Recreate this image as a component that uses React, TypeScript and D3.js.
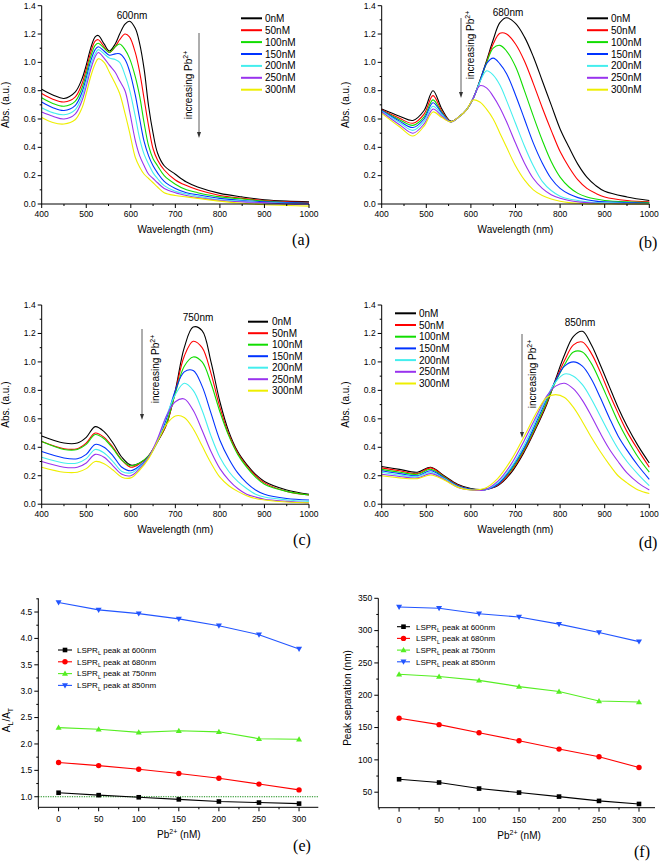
import React from "react";
import * as d3 from "d3";

const FONT = "'Liberation Sans', Arial, Helvetica, sans-serif";
const SERIF = "'Liberation Serif', 'Times New Roman', serif";

const CONC_LABELS = ["0nM", "50nM", "100nM", "150nM", "200nM", "250nM", "300nM"];
const SPEC_COLORS = ["#000000", "#ff0000", "#11dd00", "#0033ff", "#44eeee", "#9933ee", "#eeee00"];

// ---------- panel (a) ----------
const WL_A = [400, 425, 450, 475, 490, 500, 510, 520, 527, 540, 552, 565, 575, 587, 597, 610, 620, 630, 640, 650, 660, 675, 700, 725, 750, 800, 850, 900, 950, 1000];
const A_0 = [0.81, 0.77, 0.745, 0.79, 0.88, 0.98, 1.1, 1.18, 1.19, 1.13, 1.08, 1.13, 1.2, 1.27, 1.29, 1.24, 1.13, 0.95, 0.69, 0.5, 0.36, 0.27, 0.21, 0.155, 0.12, 0.075, 0.05, 0.03, 0.02, 0.015];
const A_50 = [0.78, 0.74, 0.72, 0.755, 0.845, 0.95, 1.07, 1.15, 1.16, 1.11, 1.07, 1.11, 1.16, 1.2, 1.18, 1.07, 0.93, 0.74, 0.55, 0.39, 0.31, 0.24, 0.17, 0.13, 0.1, 0.06, 0.04, 0.025, 0.015, 0.01];
const A_100 = [0.75, 0.71, 0.69, 0.725, 0.815, 0.92, 1.04, 1.12, 1.135, 1.1, 1.07, 1.11, 1.13, 1.09, 1.03, 0.9, 0.76, 0.57, 0.41, 0.32, 0.27, 0.2, 0.14, 0.1, 0.08, 0.05, 0.035, 0.02, 0.01, 0.005];
const A_150 = [0.72, 0.68, 0.66, 0.695, 0.785, 0.89, 1.01, 1.09, 1.11, 1.08, 1.05, 1.06, 1.06, 1.02, 0.94, 0.77, 0.6, 0.44, 0.34, 0.27, 0.22, 0.16, 0.11, 0.08, 0.065, 0.04, 0.025, 0.015, 0.01, 0.005];
const A_200 = [0.68, 0.645, 0.63, 0.665, 0.755, 0.86, 0.98, 1.06, 1.09, 1.06, 1.03, 1.02, 1.0, 0.91, 0.81, 0.62, 0.46, 0.35, 0.28, 0.22, 0.18, 0.13, 0.09, 0.07, 0.055, 0.03, 0.02, 0.01, 0.005, 0];
const A_250 = [0.65, 0.62, 0.6, 0.635, 0.725, 0.83, 0.95, 1.04, 1.07, 1.03, 0.98, 0.93, 0.87, 0.8, 0.66, 0.45, 0.34, 0.27, 0.21, 0.18, 0.15, 0.11, 0.08, 0.06, 0.045, 0.025, 0.015, 0.01, 0, 0];
const A_300 = [0.61, 0.575, 0.565, 0.595, 0.675, 0.78, 0.9, 0.99, 1.025, 1.0, 0.93, 0.85, 0.78, 0.64, 0.51, 0.33, 0.26, 0.21, 0.18, 0.15, 0.12, 0.08, 0.06, 0.05, 0.04, 0.02, 0.005, -0.005, -0.01, -0.015];

// ---------- panel (b) ----------
const WL_B = [400, 440, 470, 495, 515, 535, 555, 575, 590, 605, 620, 635, 650, 665, 680, 700, 720, 740, 760, 780, 800, 820, 840, 860, 880, 900, 950, 1000];
const B_0 = [0.67, 0.62, 0.59, 0.66, 0.8, 0.67, 0.585, 0.62, 0.665, 0.745, 0.87, 1.01, 1.16, 1.28, 1.315, 1.275, 1.18, 1.04, 0.87, 0.7, 0.53, 0.4, 0.28, 0.19, 0.13, 0.09, 0.05, 0.025];
const B_50 = [0.665, 0.605, 0.57, 0.635, 0.765, 0.655, 0.58, 0.62, 0.665, 0.745, 0.865, 1.0, 1.13, 1.205, 1.2, 1.13, 1.01, 0.85, 0.68, 0.52, 0.37, 0.26, 0.17, 0.11, 0.075, 0.05, 0.025, 0.015];
const B_100 = [0.66, 0.595, 0.555, 0.615, 0.735, 0.645, 0.58, 0.62, 0.665, 0.745, 0.865, 0.995, 1.1, 1.12, 1.08, 0.97, 0.8, 0.62, 0.45, 0.3, 0.19, 0.12, 0.075, 0.05, 0.035, 0.025, 0.015, 0.01];
const B_150 = [0.66, 0.585, 0.54, 0.6, 0.715, 0.64, 0.58, 0.62, 0.665, 0.745, 0.865, 0.99, 1.03, 0.99, 0.92, 0.77, 0.6, 0.43, 0.29, 0.18, 0.11, 0.07, 0.045, 0.03, 0.02, 0.015, 0.01, 0.005];
const B_200 = [0.655, 0.575, 0.52, 0.585, 0.69, 0.63, 0.58, 0.62, 0.665, 0.745, 0.86, 0.94, 0.91, 0.84, 0.73, 0.57, 0.41, 0.27, 0.16, 0.095, 0.055, 0.035, 0.025, 0.015, 0.01, 0.01, 0.005, 0];
const B_250 = [0.65, 0.56, 0.5, 0.565, 0.67, 0.62, 0.58, 0.62, 0.665, 0.745, 0.835, 0.82, 0.76, 0.68, 0.58, 0.43, 0.29, 0.18, 0.11, 0.065, 0.04, 0.025, 0.015, 0.01, 0.005, 0.005, 0, 0];
const B_300 = [0.64, 0.545, 0.48, 0.55, 0.65, 0.61, 0.58, 0.62, 0.665, 0.734, 0.72, 0.67, 0.6, 0.5, 0.4, 0.27, 0.17, 0.1, 0.06, 0.035, 0.02, 0.01, 0.005, 0, 0, 0, 0, 0];

// ---------- panel (c) ----------
const WL_C = [400, 450, 480, 500, 520, 540, 560, 580, 600, 620, 640, 660, 680, 700, 720, 740, 760, 780, 800, 820, 840, 860, 880, 900, 950, 1000];
const C_0 = [0.48, 0.43, 0.43, 0.47, 0.545, 0.51, 0.43, 0.33, 0.275, 0.29, 0.34, 0.44, 0.56, 0.8, 1.1, 1.245, 1.22, 1.0, 0.72, 0.51, 0.37, 0.28, 0.21, 0.16, 0.1, 0.07];
const C_50 = [0.44, 0.39, 0.39, 0.43, 0.5, 0.47, 0.4, 0.31, 0.26, 0.285, 0.34, 0.44, 0.56, 0.79, 1.04, 1.145, 1.1, 0.92, 0.68, 0.49, 0.36, 0.27, 0.2, 0.15, 0.09, 0.065];
const C_100 = [0.44, 0.385, 0.385, 0.42, 0.49, 0.46, 0.39, 0.31, 0.27, 0.29, 0.34, 0.44, 0.57, 0.78, 0.97, 1.035, 1.0, 0.85, 0.65, 0.48, 0.35, 0.26, 0.19, 0.14, 0.09, 0.065];
const C_150 = [0.37, 0.325, 0.32, 0.35, 0.42, 0.4, 0.34, 0.26, 0.235, 0.27, 0.33, 0.44, 0.6, 0.8, 0.93, 0.94, 0.83, 0.64, 0.45, 0.32, 0.22, 0.15, 0.1, 0.07, 0.04, 0.03];
const C_200 = [0.33, 0.29, 0.29, 0.32, 0.385, 0.36, 0.3, 0.23, 0.22, 0.26, 0.33, 0.45, 0.62, 0.77, 0.85, 0.8, 0.66, 0.48, 0.33, 0.23, 0.16, 0.11, 0.07, 0.05, 0.03, 0.02];
const C_250 = [0.3, 0.26, 0.26, 0.29, 0.35, 0.33, 0.27, 0.21, 0.2, 0.25, 0.33, 0.46, 0.62, 0.72, 0.74, 0.66, 0.52, 0.37, 0.25, 0.17, 0.11, 0.07, 0.05, 0.035, 0.02, 0.01];
const C_300 = [0.26, 0.225, 0.225, 0.25, 0.3, 0.285, 0.24, 0.19, 0.185, 0.24, 0.32, 0.44, 0.56, 0.62, 0.61, 0.53, 0.41, 0.29, 0.19, 0.13, 0.09, 0.06, 0.04, 0.03, 0.015, 0.01];

// ---------- panel (d) ----------
const WL_D = [400, 440, 480, 510, 540, 570, 600, 630, 660, 690, 720, 750, 770, 790, 810, 830, 850, 870, 890, 910, 930, 950, 975, 1000];
const D_0 = [0.265, 0.245, 0.225, 0.26, 0.2, 0.14, 0.11, 0.105, 0.13, 0.22, 0.37, 0.56, 0.7, 0.88, 1.05, 1.18, 1.215, 1.12, 0.98, 0.83, 0.68, 0.55, 0.41, 0.29];
const D_50 = [0.255, 0.235, 0.215, 0.255, 0.195, 0.135, 0.105, 0.1, 0.135, 0.23, 0.38, 0.57, 0.71, 0.87, 1.01, 1.12, 1.14, 1.06, 0.93, 0.78, 0.64, 0.51, 0.38, 0.26];
const D_100 = [0.245, 0.225, 0.21, 0.245, 0.19, 0.13, 0.105, 0.1, 0.14, 0.24, 0.39, 0.58, 0.72, 0.86, 0.98, 1.07, 1.07, 0.99, 0.86, 0.72, 0.58, 0.46, 0.33, 0.225];
const D_150 = [0.235, 0.215, 0.2, 0.235, 0.185, 0.13, 0.105, 0.1, 0.14, 0.25, 0.4, 0.6, 0.74, 0.87, 0.97, 1.0, 0.97, 0.88, 0.75, 0.61, 0.48, 0.38, 0.27, 0.175];
const D_200 = [0.225, 0.205, 0.195, 0.225, 0.18, 0.125, 0.1, 0.1, 0.15, 0.26, 0.42, 0.62, 0.75, 0.86, 0.915, 0.9, 0.84, 0.74, 0.62, 0.5, 0.39, 0.3, 0.21, 0.13];
const D_250 = [0.21, 0.195, 0.185, 0.215, 0.175, 0.12, 0.1, 0.1, 0.16, 0.28, 0.45, 0.64, 0.76, 0.83, 0.85, 0.81, 0.73, 0.62, 0.5, 0.39, 0.3, 0.22, 0.15, 0.1];
const D_300 = [0.2, 0.185, 0.18, 0.205, 0.17, 0.12, 0.1, 0.11, 0.18, 0.31, 0.48, 0.66, 0.75, 0.77, 0.75, 0.68, 0.58, 0.47, 0.37, 0.28, 0.2, 0.15, 0.1, 0.075];

const SPEC_Y_TICKS = [0, 0.2, 0.4, 0.6, 0.8, 1.0, 1.2, 1.4];
const SPEC_Y_MINOR = [0.1, 0.3, 0.5, 0.7, 0.9, 1.1, 1.3];
const SPEC_X_TICKS = [400, 500, 600, 700, 800, 900, 1000];
const SPEC_X_MINOR = [450, 550, 650, 750, 850, 950];

// ---------- panels (e), (f) ----------
const PB = [0, 50, 100, 150, 200, 250, 300];
const RATIO_600 = [1.076, 1.03, 0.99, 0.95, 0.91, 0.89, 0.87];
const RATIO_680 = [1.65, 1.59, 1.52, 1.44, 1.35, 1.24, 1.13];
const RATIO_750 = [2.31, 2.28, 2.22, 2.25, 2.23, 2.1, 2.09];
const RATIO_850 = [4.68, 4.54, 4.47, 4.37, 4.24, 4.07, 3.8];
const SEP_600 = [70, 65, 55.6, 49.4, 43.2, 36.5, 31.8];
const SEP_680 = [164.3, 154.5, 142, 129.6, 116.7, 104.8, 88.2];
const SEP_750 = [232.6, 229, 223, 213.4, 205.7, 191, 189.6];
const SEP_850 = [336.5, 334.5, 326, 321, 310, 297, 283];
const PEAK_LABELS = ["600nm", "680nm", "750nm", "850nm"];
const XY_COLORS = ["#000000", "#ff0000", "#55ee22", "#2255ff"];
const MARKERS = ["square", "circle", "up", "down"];
const E_Y_TICKS = [1.0, 1.5, 2.0, 2.5, 3.0, 3.5, 4.0, 4.5];
const E_Y_MINOR = [1.25, 1.75, 2.25, 2.75, 3.25, 3.75, 4.25, 4.75];
const F_Y_TICKS = [50, 100, 150, 200, 250, 300, 350];
const F_Y_MINOR = [75, 125, 175, 225, 275, 325];
const XY_X_TICKS = [0, 50, 100, 150, 200, 250, 300];
const XY_X_MINOR = [-25, 25, 75, 125, 175, 225, 275];

type Box = { l: number; r: number; t: number; b: number };

function SpectrumPanel(p: {
  box: Box;
  wl: number[];
  series: number[][];
  legend: { x1: number; x2: number; tx: number; y0: number; dy: number };
  peak: { text: string; x: number; y: number };
  arrow: { x: number; y1: number; y2: number };
  incr: { x: number; y: number };
  titleY: number;
  ytitleX: number;
  label: { text: string; x: number; y: number };
}) {
  const { box } = p;
  const x = d3.scaleLinear().domain([400, 1000]).range([box.l, box.r]);
  const y = d3.scaleLinear().domain([0, 1.4]).range([box.b, box.t]);
  const line = d3
    .line<number>()
    .x((_, i) => x(p.wl[i]))
    .y((d) => y(d))
    .curve(d3.curveCatmullRom.alpha(0.5));
  return (
    <g fontFamily={FONT}>
      {p.series.map((s, i) => (
        <path key={i} d={line(s) || ""} fill="none" stroke={SPEC_COLORS[i]} strokeWidth={1.1} />
      ))}
      <line x1={box.l} x2={box.l} y1={box.t} y2={box.b} stroke="#000" strokeWidth={1} />
      <line x1={box.l} x2={box.r} y1={box.b} y2={box.b} stroke="#000" strokeWidth={1} />
      {SPEC_Y_TICKS.map((t) => (
        <g key={"y" + t}>
          <line x1={box.l - 4} x2={box.l} y1={y(t)} y2={y(t)} stroke="#000" />
          <text x={box.l - 6} y={y(t)} dy="0.33em" textAnchor="end" fontSize={8.5}>
            {t.toFixed(1)}
          </text>
        </g>
      ))}
      {SPEC_Y_MINOR.map((t) => (
        <line key={"ym" + t} x1={box.l - 2} x2={box.l} y1={y(t)} y2={y(t)} stroke="#000" />
      ))}
      {SPEC_X_TICKS.map((t) => (
        <g key={"x" + t}>
          <line x1={x(t)} x2={x(t)} y1={box.b} y2={box.b + 4} stroke="#000" />
          <text x={x(t)} y={box.b + 13} textAnchor="middle" fontSize={8.5}>
            {t}
          </text>
        </g>
      ))}
      {SPEC_X_MINOR.map((t) => (
        <line key={"xm" + t} x1={x(t)} x2={x(t)} y1={box.b} y2={box.b + 2} stroke="#000" />
      ))}
      <text x={(box.l + box.r) / 2} y={p.titleY} textAnchor="middle" fontSize={10}>
        Wavelength (nm)
      </text>
      <text
        transform={`translate(${p.ytitleX},${(box.t + box.b) / 2}) rotate(-90)`}
        textAnchor="middle"
        fontSize={10}
      >
        Abs. (a.u.)
      </text>
      {CONC_LABELS.map((c, i) => (
        <g key={c}>
          <line
            x1={p.legend.x1}
            x2={p.legend.x2}
            y1={p.legend.y0 + i * p.legend.dy}
            y2={p.legend.y0 + i * p.legend.dy}
            stroke={SPEC_COLORS[i]}
            strokeWidth={2}
          />
          <text x={p.legend.tx} y={p.legend.y0 + i * p.legend.dy} dy="0.35em" fontSize={10}>
            {c}
          </text>
        </g>
      ))}
      <text x={p.peak.x} y={p.peak.y} dy="0.35em" textAnchor="middle" fontSize={10}>
        {p.peak.text}
      </text>
      <line x1={p.arrow.x} x2={p.arrow.x} y1={p.arrow.y1} y2={p.arrow.y2 - 4} stroke="#333" strokeWidth={0.8} />
      <path
        d={`M${p.arrow.x - 2},${p.arrow.y2 - 6} L${p.arrow.x + 2},${p.arrow.y2 - 6} L${p.arrow.x},${p.arrow.y2} Z`}
        fill="#333"
      />
      <text
        transform={`translate(${p.incr.x},${p.incr.y}) rotate(-90)`}
        textAnchor="middle"
        dy="0.35em"
        fontSize={10}
      >
        increasing Pb
        <tspan fontSize={7} dy={-4}>
          2+
        </tspan>
      </text>
      <text x={p.label.x} y={p.label.y} textAnchor="middle" fontSize={16} fontFamily={SERIF}>
        {p.label.text}
      </text>
    </g>
  );
}

function Marker({ kind, cx, cy, color }: { kind: string; cx: number; cy: number; color: string }) {
  if (kind === "square") return <rect x={cx - 2.3} y={cy - 2.3} width={4.6} height={4.6} fill={color} />;
  if (kind === "circle") return <circle cx={cx} cy={cy} r={2.7} fill={color} />;
  if (kind === "up")
    return <path d={`M${cx},${cy - 3} L${cx + 3},${cy + 2.2} L${cx - 3},${cy + 2.2} Z`} fill={color} />;
  return <path d={`M${cx},${cy + 3} L${cx + 3},${cy - 2.2} L${cx - 3},${cy - 2.2} Z`} fill={color} />;
}

function XYPanel(p: {
  box: Box;
  xDomain: [number, number];
  yDomain: [number, number];
  yTicks: number[];
  yMinor: number[];
  yFmt: (v: number) => string;
  series: number[][];
  legend: { x1: number; x2: number; tx: number; y0: number; dy: number };
  ytitle: React.ReactNode;
  ytitleX: number;
  ytitleY: number;
  refLine?: number;
  label: { text: string; x: number; y: number };
}) {
  const { box } = p;
  const x = d3.scaleLinear().domain(p.xDomain).range([box.l, box.r]);
  const y = d3.scaleLinear().domain(p.yDomain).range([box.b, box.t]);
  const line = d3
    .line<number>()
    .x((_, i) => x(PB[i]))
    .y((d) => y(d));
  return (
    <g fontFamily={FONT}>
      {p.refLine !== undefined && (
        <line
          x1={box.l}
          x2={box.r}
          y1={y(p.refLine)}
          y2={y(p.refLine)}
          stroke="#118811"
          strokeWidth={1}
          strokeDasharray="1.2,1.2"
        />
      )}
      {p.series.map((s, i) => (
        <g key={i}>
          <path d={line(s) || ""} fill="none" stroke={XY_COLORS[i]} strokeWidth={1.1} />
          {s.map((v, j) => (
            <Marker key={j} kind={MARKERS[i]} cx={x(PB[j])} cy={y(v)} color={XY_COLORS[i]} />
          ))}
        </g>
      ))}
      <line x1={box.l} x2={box.l} y1={box.t} y2={box.b} stroke="#000" />
      <line x1={box.l} x2={box.r} y1={box.b} y2={box.b} stroke="#000" />
      {p.yTicks.map((t) => (
        <g key={"y" + t}>
          <line x1={box.l - 4} x2={box.l} y1={y(t)} y2={y(t)} stroke="#000" />
          <text x={box.l - 6} y={y(t)} dy="0.33em" textAnchor="end" fontSize={8.5}>
            {p.yFmt(t)}
          </text>
        </g>
      ))}
      {p.yMinor
        .filter((t) => t >= p.yDomain[0] && t <= p.yDomain[1])
        .map((t) => (
          <line key={"ym" + t} x1={box.l - 2} x2={box.l} y1={y(t)} y2={y(t)} stroke="#000" />
        ))}
      {XY_X_TICKS.map((t) => (
        <g key={"x" + t}>
          <line x1={x(t)} x2={x(t)} y1={box.b} y2={box.b + 4} stroke="#000" />
          <text x={x(t)} y={box.b + 15} textAnchor="middle" fontSize={8.5}>
            {t}
          </text>
        </g>
      ))}
      {XY_X_MINOR.filter((t) => t >= p.xDomain[0]).map((t) => (
        <line key={"xm" + t} x1={x(t)} x2={x(t)} y1={box.b} y2={box.b + 2} stroke="#000" />
      ))}
      <text x={(x(0) + x(300)) / 2} y={box.b + 31} textAnchor="middle" fontSize={10}>
        Pb
        <tspan fontSize={7} dy={-4}>
          2+
        </tspan>
        <tspan dy={4}> (nM)</tspan>
      </text>
      <text transform={`translate(${p.ytitleX},${p.ytitleY}) rotate(-90)`} textAnchor="middle" fontSize={10}>
        {p.ytitle}
      </text>
      {PEAK_LABELS.map((pk, i) => {
        const yy = p.legend.y0 + i * p.legend.dy;
        return (
          <g key={pk}>
            <line x1={p.legend.x1} x2={p.legend.x2} y1={yy} y2={yy} stroke={XY_COLORS[i]} strokeWidth={1.1} />
            <Marker kind={MARKERS[i]} cx={(p.legend.x1 + p.legend.x2) / 2} cy={yy} color={XY_COLORS[i]} />
            <text x={p.legend.tx} y={yy} dy="0.35em" fontSize={8}>
              LSPR
              <tspan fontSize={5.5} dy={2.5}>
                L
              </tspan>
              <tspan dy={-2.5}> peak at {pk}</tspan>
            </text>
          </g>
        );
      })}
      <text x={p.label.x} y={p.label.y} textAnchor="middle" fontSize={16} fontFamily={SERIF}>
        {p.label.text}
      </text>
    </g>
  );
}

export default function App() {
  return (
    <svg
      width={661}
      height={861}
      viewBox="0 0 661 861"
      style={{ position: "absolute", left: 0, top: 0, background: "#fff" }}
    >
      <rect width={661} height={861} fill="#fff" />
      <SpectrumPanel
        box={{ l: 41.7, r: 309, t: 5.7, b: 204 }}
        wl={WL_A}
        series={[A_0, A_50, A_100, A_150, A_200, A_250, A_300]}
        legend={{ x1: 241, x2: 262, tx: 265, y0: 18.3, dy: 11.9 }}
        peak={{ text: "600nm", x: 132, y: 15 }}
        arrow={{ x: 199, y1: 33, y2: 138 }}
        incr={{ x: 188, y: 85 }}
        titleY={232.5}
        ytitleX={9}
        label={{ text: "(a)", x: 301, y: 245 }}
      />
      <SpectrumPanel
        box={{ l: 381.7, r: 649.3, t: 5.7, b: 204 }}
        wl={WL_B}
        series={[B_0, B_50, B_100, B_150, B_200, B_250, B_300]}
        legend={{ x1: 587, x2: 608, tx: 611, y0: 18.3, dy: 11.9 }}
        peak={{ text: "680nm", x: 508, y: 12 }}
        arrow={{ x: 461, y1: 18, y2: 98 }}
        incr={{ x: 470, y: 45 }}
        titleY={232.5}
        ytitleX={349}
        label={{ text: "(b)", x: 648, y: 248 }}
      />
      <SpectrumPanel
        box={{ l: 41.7, r: 309, t: 305, b: 504.2 }}
        wl={WL_C}
        series={[C_0, C_50, C_100, C_150, C_200, C_250, C_300]}
        legend={{ x1: 248, x2: 268, tx: 272, y0: 321.7, dy: 11.5 }}
        peak={{ text: "750nm", x: 198, y: 317 }}
        arrow={{ x: 142, y1: 329, y2: 420 }}
        incr={{ x: 155, y: 369 }}
        titleY={532.5}
        ytitleX={9}
        label={{ text: "(c)", x: 302, y: 545 }}
      />
      <SpectrumPanel
        box={{ l: 381.7, r: 649.3, t: 305, b: 504.2 }}
        wl={WL_D}
        series={[D_0, D_50, D_100, D_150, D_200, D_250, D_300]}
        legend={{ x1: 395, x2: 416, tx: 419, y0: 313.3, dy: 11.7 }}
        peak={{ text: "850nm", x: 580, y: 322 }}
        arrow={{ x: 522, y1: 334, y2: 438 }}
        incr={{ x: 532, y: 374 }}
        titleY={532.5}
        ytitleX={349}
        label={{ text: "(d)", x: 648, y: 548 }}
      />
      <XYPanel
        box={{ l: 38.3, r: 318.3, t: 598.3, b: 807.3 }}
        xDomain={[-25.3, 324]}
        yDomain={[0.8, 4.76]}
        yTicks={E_Y_TICKS}
        yMinor={E_Y_MINOR}
        yFmt={(v) => v.toFixed(1)}
        series={[RATIO_600, RATIO_680, RATIO_750, RATIO_850]}
        legend={{ x1: 58, x2: 72, tx: 77, y0: 650, dy: 11.8 }}
        ytitle={
          <>
            A<tspan fontSize={7} dy={3}>L</tspan>
            <tspan dy={-3}>/A</tspan>
            <tspan fontSize={7} dy={3}>T</tspan>
          </>
        }
        ytitleX={10}
        ytitleY={720}
        refLine={1.0}
        label={{ text: "(e)", x: 302, y: 851 }}
      />
      <XYPanel
        box={{ l: 378.3, r: 655, t: 598.3, b: 807.7 }}
        xDomain={[-26, 320]}
        yDomain={[26, 350]}
        yTicks={F_Y_TICKS}
        yMinor={F_Y_MINOR}
        yFmt={(v) => String(v)}
        series={[SEP_600, SEP_680, SEP_750, SEP_850]}
        legend={{ x1: 397, x2: 410, tx: 416, y0: 626.7, dy: 11.7 }}
        ytitle={<>Peak separation (nm)</>}
        ytitleX={351}
        ytitleY={698}
        label={{ text: "(f)", x: 642, y: 857 }}
      />
    </svg>
  );
}
